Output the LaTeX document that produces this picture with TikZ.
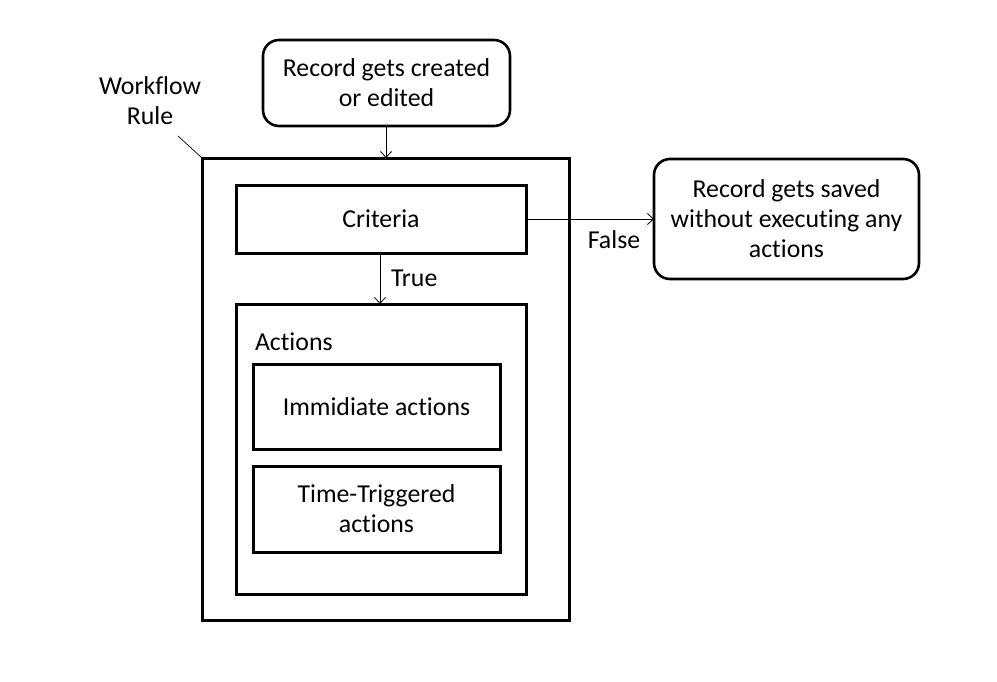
\documentclass[tikz,border=0pt]{standalone}
\usepackage{fontspec}
\setmainfont[Ligatures=NoCommon]{Carlito}
\usetikzlibrary{arrows.meta}
\begin{document}
\begin{tikzpicture}[x=1pt,y=-1pt,
  txt/.style={font=\fontsize{25.8}{30}\selectfont, align=center},
  rbox/.style={draw, line width=2.6pt, rounded corners=16pt},
  sbox/.style={draw, line width=3pt},
  conn/.style={draw, line width=0.8pt, -{Straight Barb[length=6pt,width=11pt]}},
  every node/.style={inner sep=0pt, outer sep=0pt}]
\useasboundingbox (0,0) rectangle (997,681);
\node[rbox, minimum width=247pt, minimum height=86pt, txt] (rec) at (386.5,83) {Record gets created\\or edited};
\node[sbox, minimum width=367pt, minimum height=462pt] (wf) at (385.5,389) {};
\node[sbox, minimum width=290pt, minimum height=68pt, txt] (crit) at (381,219) {Criteria};
\node[sbox, minimum width=290pt, minimum height=290pt] (act) at (381,449) {};
\node[txt, anchor=west] (acttitle) at (255,342) {Actions};
\node[sbox, minimum width=247pt, minimum height=85pt, txt] (imm) at (376.5,406.5) {Immidiate actions};
\node[sbox, minimum width=247pt, minimum height=86pt, txt] (tt) at (376.5,509) {Time-Triggered\\actions};
\node[rbox, minimum width=265pt, minimum height=120pt, txt] (saved) at (786.5,219) {Record gets saved\\without executing any\\actions};
\node[txt] (wflabel) at (150,101) {Workflow\\Rule};
\coordinate (wfl) at (178,136);
\draw[conn] (rec.south -| 386,0) -- (wf.north -| 386,0);
\draw[conn] (crit.south -| 380,0) -- node[txt, right=11pt] (truelbl) {True} (act.north -| 380,0);
\draw[conn] (crit.east) -- (saved.west);
\node[txt] (falselbl) at (614,240) {False};
\draw[line width=0.7pt] (wfl) -- (wf.north west);
\end{tikzpicture}
\end{document}
